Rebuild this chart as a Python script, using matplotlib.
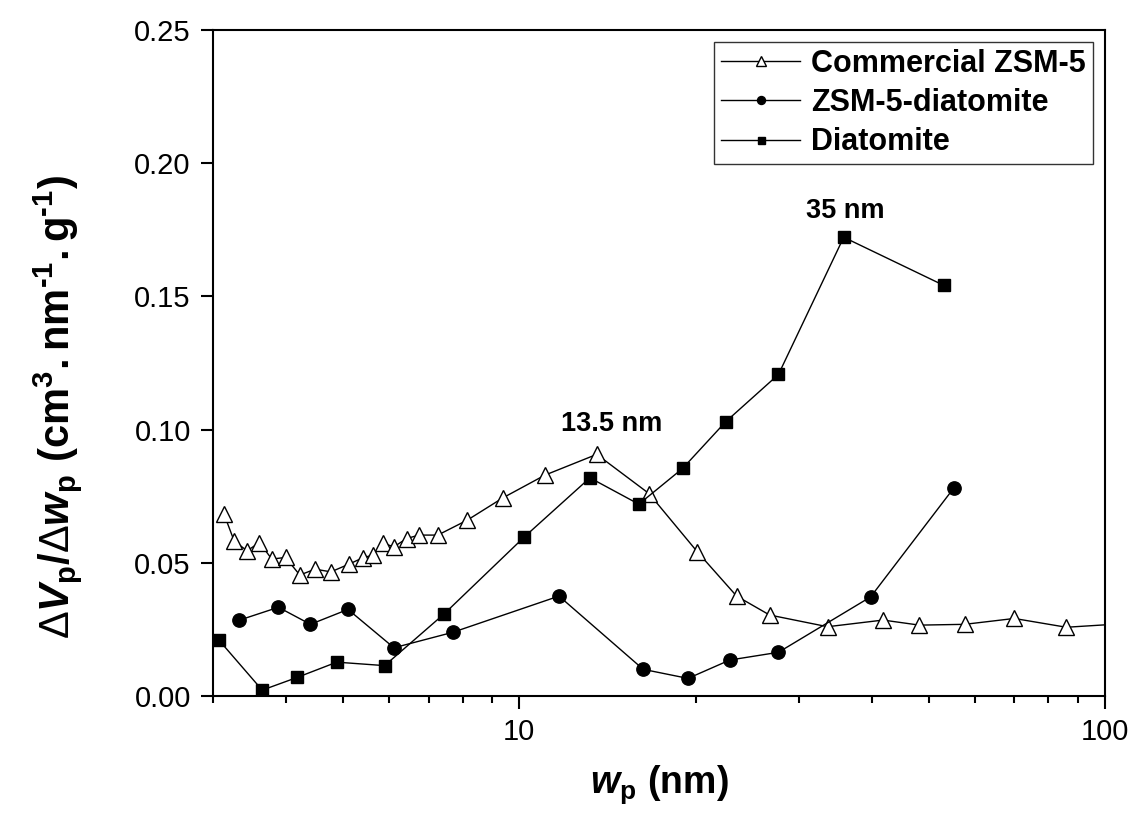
import matplotlib
matplotlib.use('Agg')
import matplotlib.pyplot as plt

plt.rcParams['font.family'] = ['Liberation Sans', 'DejaVu Sans']
plt.rcParams['mathtext.fontset'] = 'custom'
plt.rcParams['mathtext.rm'] = 'Liberation Sans:bold'
plt.rcParams['mathtext.it'] = 'Liberation Sans:bold:italic'
plt.rcParams['mathtext.bf'] = 'Liberation Sans:bold'
plt.rcParams['mathtext.sf'] = 'Liberation Sans'

# Commercial ZSM-5 (open triangles)
wp_commercial = [3.13, 3.26, 3.43, 3.60, 3.78, 3.99, 4.22, 4.48, 4.77, 5.12, 5.41,
                 5.63, 5.86, 6.11, 6.42, 6.74, 7.26, 8.15, 9.38, 11.06, 13.56,
                 16.65, 20.14, 23.5, 26.75, 33.6, 41.8, 48.2, 57.6, 70.0, 85.9, 105.0]
dv_commercial = [0.0685, 0.0582, 0.0545, 0.0576, 0.0514, 0.0520, 0.0454, 0.0476,
                 0.0466, 0.0495, 0.0519, 0.0529, 0.0573, 0.0560, 0.0591, 0.0604,
                 0.0604, 0.0660, 0.0744, 0.0829, 0.0907, 0.0760, 0.0541, 0.0375,
                 0.0304, 0.0260, 0.0285, 0.0266, 0.0269, 0.0291, 0.0258, 0.0270]

# ZSM-5-diatomite (filled circles)
wp_composite = [3.32, 3.88, 4.40, 5.10, 6.11, 7.70, 11.69, 16.28, 19.41, 22.88,
                27.7, 39.8, 55.2]
dv_composite = [0.0284, 0.0333, 0.0269, 0.0325, 0.0181, 0.0239, 0.0375, 0.0100,
                0.0066, 0.0135, 0.0164, 0.0372, 0.0781]

# Diatomite (filled squares)
wp_diatomite = [3.07, 3.64, 4.18, 4.88, 5.89, 7.45, 10.2, 13.2, 16.0, 19.0, 22.5,
                27.7, 35.8, 53.1]
dv_diatomite = [0.0210, 0.0022, 0.0070, 0.0127, 0.0114, 0.0309, 0.0597, 0.0819,
                0.0720, 0.0854, 0.1029, 0.1207, 0.1722, 0.1541]

fig = plt.figure(figsize=(11.33, 8.22), dpi=100)
ax = fig.add_axes([0.188, 0.1533, 0.7873, 0.8102])

ax.plot(wp_commercial, dv_commercial, '-^', color='black', lw=1.0,
        mfc='white', mec='black', mew=1.0, ms=12, label='Commercial ZSM-5')
ax.plot(wp_composite, dv_composite, '-o', color='black', lw=1.0,
        ms=9.6, label='ZSM-5-diatomite')
ax.plot(wp_diatomite, dv_diatomite, '-s', color='black', lw=1.0,
        ms=8.4, label='Diatomite')

ax.annotate('13.5 nm', xy=(wp_commercial[20], dv_commercial[20]), xytext=(11, 22),
            textcoords='offset points', ha='center', va='center',
            fontsize=19.5, fontweight='bold')
ax.annotate('35 nm', xy=(wp_diatomite[12], dv_diatomite[12]), xytext=(1, 19),
            textcoords='offset points', ha='center', va='center',
            fontsize=19.5, fontweight='bold')

ax.set_xscale('log')
ax.set_xlim(3, 100)
ax.set_ylim(0, 0.25)
ax.set_yticks([0.0, 0.05, 0.10, 0.15, 0.20, 0.25])
ax.set_yticklabels(['0.00', '0.05', '0.10', '0.15', '0.20', '0.25'])
ax.set_xticks([10, 100])
ax.set_xticklabels(['10', '100'])
ax.xaxis.set_minor_formatter(matplotlib.ticker.NullFormatter())

ax.tick_params(axis='both', which='major', direction='out', length=9, width=1.5,
               labelsize=21, pad=7)
ax.tick_params(axis='x', which='minor', direction='out', length=4.8, width=1.5)
for s in ax.spines.values():
    s.set_linewidth(1.5)

ax.set_xlabel(r'$\mathit{w}_{\rm p}\ \rm (nm)$', fontsize=27, labelpad=12)
ax.set_ylabel(r'$\mathsf{\Delta}\mathit{V}_{\rm p}/\mathsf{\Delta}\mathit{w}_{\rm p}\ '
              r'\rm (cm^{3}.nm^{‐1}.g^{‐1})$', fontsize=30)
ax.yaxis.set_label_coords(-0.145, 0.434)

leg = ax.legend(loc='upper right', prop={'weight': 'bold', 'size': 22},
                frameon=True, fancybox=False, edgecolor='black', markerscale=0.6,
                handlelength=2.6, handletextpad=0.36, labelspacing=0.3,
                borderpad=0.22, borderaxespad=0.4)
leg.get_frame().set_linewidth(1.0)

fig.savefig('out.png', dpi=100)
